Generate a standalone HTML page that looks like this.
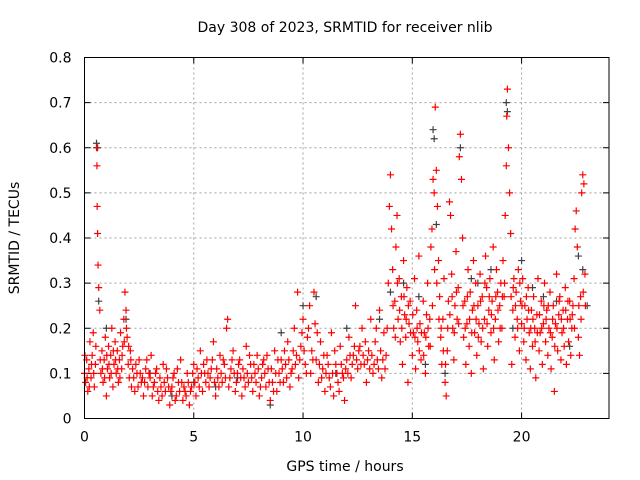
<!DOCTYPE html>
<html><head><meta charset="utf-8"><style>
html,body{margin:0;padding:0;background:#fff;}
svg{display:block;font-family:"DejaVu Sans","Liberation Sans",sans-serif;}
</style></head><body>
<svg id="chart" width="640" height="480">
<text x="345" y="32" font-size="14" text-anchor="middle">Day 308 of 2023, SRMTID for receiver nlib</text>
<text x="345" y="471" font-size="14" text-anchor="middle">GPS time / hours</text>
<text transform="translate(19,238) rotate(-90)" font-size="14" text-anchor="middle">SRMTID / TECUs</text>
<g id="grid"></g>
<g id="ticks"></g>
<g id="gray"></g>
<g id="red"></g>
<rect x="84.5" y="57.5" width="524.5" height="361" fill="none" stroke="#000" stroke-width="1"/>
</svg>
<script>
const xTicks=[0,5,10,15,20];
const yTicks=[0,0.1,0.2,0.3,0.4,0.5,0.6,0.7,0.8];
const yTickLabels=["0","0.1","0.2","0.3","0.4","0.5","0.6","0.7","0.8"];
const grayPoints=[[0.55,.61],[0.6,.6],[0.65,.26],[1.0,.2],[1.9,.22],[3,.1],[5,.08],[7,.09],[8.5,.03],[9,.19],[10,.25],[10.6,.27],[12,.2],[13.5,.22],[14,.28],[14.6,.3],[15.3,.27],[15.95,.64],[16,.62],[16.1,.43],[16.5,.1],[17.2,.6],[17.7,.31],[18,.3],[18.6,.33],[19.3,.7],[19.35,.68],[19.6,.2],[20,.35],[20.5,.29],[21,.27],[21.6,.26],[22.6,.36],[22.8,.33],[23,.25],[22.2,.16],[15.6,.12],[11.5,.1],[6,.07],[4,.05]];
const redPoints=[[0.0,.1],[0.05,.08],[0.1,.13],[0.15,.06],[0.2,.11],[0.25,.17],[0.3,.09],[0.35,.14],[0.4,.19],[0.45,.07],[0.5,.12],[0.55,.6],[0.57,.56],[0.58,.47],[0.6,.41],[0.62,.34],[0.65,.29],[0.7,.24],[0.75,.1],[0.8,.15],[0.85,.08],[0.9,.13],[0.95,.18],[1.0,.05],[1.05,.11],[1.1,.16],[1.15,.09],[1.2,.14],[1.25,.2],[1.3,.07],[1.35,.12],[1.4,.17],[1.45,.1],[1.5,.15],[1.55,.08],[1.6,.13],[1.65,.19],[1.7,.11],[1.75,.16],[1.8,.22],[1.85,.28],[1.9,.24],[1.95,.18],[2.0,.12],[2.05,.09],[2.1,.15],[2.15,.07],[2.2,.11],[2.3,.06],[2.4,.1],[2.5,.13],[2.6,.08],[2.7,.05],[2.8,.11],[2.9,.07],[3.0,.09],[3.05,.14],[3.1,.05],[3.2,.08],[3.3,.11],[3.4,.04],[3.5,.07],[3.6,.12],[3.7,.06],[3.8,.09],[3.9,.03],[4.0,.07],[4.1,.1],[4.2,.05],[4.3,.08],[4.4,.13],[4.5,.04],[4.6,.06],[4.7,.1],[4.8,.03],[4.9,.07],[5.0,.12],[5.1,.05],[5.2,.09],[5.3,.15],[5.4,.06],[5.5,.1],[5.6,.13],[5.7,.07],[5.8,.11],[5.9,.17],[6.0,.05],[6.1,.09],[6.2,.14],[6.3,.08],[6.4,.12],[6.5,.2],[6.6,.07],[6.7,.11],[6.8,.15],[6.9,.06],[7.0,.1],[7.1,.13],[7.2,.05],[7.3,.09],[7.4,.16],[7.5,.08],[7.6,.12],[7.7,.06],[7.8,.1],[7.9,.14],[8.0,.05],[8.1,.09],[8.2,.13],[8.3,.07],[8.4,.11],[8.5,.04],[8.6,.08],[8.7,.15],[8.8,.06],[8.9,.1],[9.0,.13],[9.1,.08],[9.2,.12],[9.3,.17],[9.4,.07],[9.5,.11],[9.6,.2],[9.7,.14],[9.75,.28],[9.8,.09],[9.9,.16],[10.0,.22],[10.1,.12],[10.2,.18],[10.3,.25],[10.35,.1],[10.4,.15],[10.5,.28],[10.55,.21],[10.6,.13],[10.7,.08],[10.8,.17],[10.9,.11],[11.0,.06],[11.1,.14],[11.2,.09],[11.3,.19],[11.4,.05],[11.5,.12],[11.6,.08],[11.7,.16],[11.8,.1],[11.9,.04],[12.0,.13],[12.1,.18],[12.2,.09],[12.3,.14],[12.4,.25],[12.5,.11],[12.6,.16],[12.7,.2],[12.8,.12],[12.9,.08],[13.0,.15],[13.1,.22],[13.2,.1],[13.3,.17],[13.4,.13],[13.5,.24],[13.6,.09],[13.7,.19],[13.8,.14],[13.9,.3],[13.95,.47],[14.0,.54],[14.05,.42],[14.1,.33],[14.15,.2],[14.2,.26],[14.25,.38],[14.3,.45],[14.35,.22],[14.4,.31],[14.45,.17],[14.5,.27],[14.55,.12],[14.6,.35],[14.65,.23],[14.7,.18],[14.75,.29],[14.8,.08],[14.85,.21],[14.9,.26],[15.0,.14],[15.05,.19],[15.1,.31],[15.15,.11],[15.2,.24],[15.25,.17],[15.3,.36],[15.35,.21],[15.4,.13],[15.5,.26],[15.55,.19],[15.6,.1],[15.65,.23],[15.7,.3],[15.75,.16],[15.8,.22],[15.85,.38],[15.9,.42],[15.95,.53],[16.0,.5],[16.05,.69],[16.1,.55],[16.15,.47],[16.2,.35],[16.25,.27],[16.3,.18],[16.35,.12],[16.4,.22],[16.45,.31],[16.5,.08],[16.55,.05],[16.6,.15],[16.65,.26],[16.7,.48],[16.75,.45],[16.8,.32],[16.85,.2],[16.9,.13],[16.95,.25],[17.0,.37],[17.05,.22],[17.1,.29],[17.15,.58],[17.2,.63],[17.25,.53],[17.3,.4],[17.35,.18],[17.4,.26],[17.45,.12],[17.5,.21],[17.55,.33],[17.6,.16],[17.65,.28],[17.7,.1],[17.75,.24],[17.8,.35],[17.85,.19],[17.9,.3],[17.95,.14],[18.0,.25],[18.05,.21],[18.1,.32],[18.15,.17],[18.2,.27],[18.25,.11],[18.3,.22],[18.35,.36],[18.4,.29],[18.45,.16],[18.5,.24],[18.55,.31],[18.6,.19],[18.65,.26],[18.7,.38],[18.75,.13],[18.8,.22],[18.85,.33],[18.9,.28],[18.95,.17],[19.0,.25],[19.05,.3],[19.1,.2],[19.15,.35],[19.2,.27],[19.25,.45],[19.3,.56],[19.32,.67],[19.35,.73],[19.4,.6],[19.45,.5],[19.5,.41],[19.55,.12],[19.6,.24],[19.65,.31],[19.7,.18],[19.75,.28],[19.8,.22],[19.85,.33],[19.9,.15],[19.95,.26],[20.0,.21],[20.05,.31],[20.1,.17],[20.15,.25],[20.2,.13],[20.25,.22],[20.3,.29],[20.35,.19],[20.4,.11],[20.45,.24],[20.5,.16],[20.55,.27],[20.6,.2],[20.65,.09],[20.7,.23],[20.75,.31],[20.8,.15],[20.85,.19],[20.9,.26],[20.95,.12],[21.0,.21],[21.05,.3],[21.1,.17],[21.15,.24],[21.2,.14],[21.25,.2],[21.3,.28],[21.35,.11],[21.4,.18],[21.45,.25],[21.5,.06],[21.55,.21],[21.6,.32],[21.65,.15],[21.7,.23],[21.75,.27],[21.8,.13],[21.85,.19],[21.9,.24],[21.95,.16],[22.0,.29],[22.05,.12],[22.1,.22],[22.15,.17],[22.2,.26],[22.25,.14],[22.3,.2],[22.35,.25],[22.4,.31],[22.45,.42],[22.5,.46],[22.55,.38],[22.6,.18],[22.65,.14],[22.7,.27],[22.75,.5],[22.8,.54],[22.85,.52],[22.9,.32]];
const redPoints2=[[0.02,.14],[0.12,.09],[0.22,.07],[0.32,.12],[0.42,.1],[0.52,.16],[0.72,.13],[0.82,.11],[0.92,.09],[1.02,.14],[1.12,.12],[1.22,.1],[1.32,.15],[1.42,.13],[1.52,.11],[1.62,.09],[1.72,.14],[1.82,.17],[1.92,.2],[2.02,.16],[2.12,.13],[2.25,.09],[2.35,.12],[2.45,.07],[2.55,.1],[2.65,.09],[2.75,.08],[2.85,.13],[2.95,.1],[3.15,.07],[3.25,.1],[3.35,.06],[3.45,.09],[3.55,.05],[3.65,.08],[3.75,.11],[3.85,.07],[3.95,.06],[4.05,.09],[4.15,.04],[4.25,.11],[4.35,.06],[4.45,.08],[4.55,.07],[4.65,.05],[4.75,.08],[4.85,.06],[4.95,.1],[5.05,.08],[5.15,.11],[5.25,.07],[5.35,.1],[5.45,.12],[5.55,.08],[5.65,.1],[5.75,.09],[5.85,.13],[5.95,.08],[6.05,.11],[6.15,.07],[6.25,.1],[6.35,.13],[6.45,.09],[6.55,.22],[6.65,.09],[6.75,.13],[6.85,.1],[6.95,.08],[7.05,.12],[7.15,.09],[7.25,.11],[7.35,.07],[7.45,.1],[7.55,.14],[7.65,.09],[7.75,.12],[7.85,.08],[7.95,.11],[8.05,.07],[8.15,.12],[8.25,.1],[8.35,.14],[8.45,.08],[8.55,.11],[8.65,.06],[8.75,.1],[8.85,.13],[8.95,.08],[9.05,.11],[9.15,.15],[9.25,.09],[9.35,.13],[9.45,.1],[9.55,.15],[9.65,.12],[9.85,.13],[9.95,.19],[10.05,.15],[10.15,.1],[10.25,.2],[10.45,.13],[10.65,.19],[10.75,.12],[10.85,.09],[10.95,.14],[11.05,.1],[11.15,.12],[11.25,.07],[11.35,.1],[11.45,.15],[11.55,.1],[11.65,.06],[11.75,.12],[11.85,.09],[11.95,.11],[12.05,.1],[12.15,.14],[12.25,.12],[12.35,.16],[12.45,.13],[12.55,.15],[12.65,.12],[12.75,.14],[12.85,.17],[12.95,.13],[13.05,.11],[13.15,.14],[13.25,.12],[13.35,.2],[13.45,.11],[13.55,.15],[13.65,.13],[13.75,.11],[13.85,.2],[14.12,.25],[14.22,.18],[14.32,.3],[14.42,.24],[14.52,.2],[14.62,.27],[14.72,.22],[14.82,.25],[14.92,.19],[15.02,.23],[15.12,.18],[15.22,.2],[15.32,.15],[15.42,.19],[15.52,.14],[15.62,.18],[15.72,.2],[15.82,.16],[15.92,.25],[16.02,.33],[16.12,.3],[16.22,.22],[16.32,.2],[16.42,.15],[16.52,.12],[16.62,.2],[16.72,.23],[16.82,.27],[16.92,.19],[17.02,.28],[17.12,.21],[17.32,.25],[17.42,.2],[17.52,.27],[17.62,.22],[17.72,.19],[17.82,.25],[17.92,.22],[18.02,.18],[18.12,.26],[18.22,.2],[18.32,.3],[18.42,.21],[18.52,.27],[18.62,.23],[18.72,.2],[18.82,.27],[18.92,.24],[19.02,.2],[19.12,.27],[19.22,.3],[19.52,.27],[19.62,.29],[19.72,.25],[19.82,.2],[19.92,.3],[20.02,.25],[20.12,.2],[20.22,.27],[20.32,.24],[20.42,.2],[20.52,.22],[20.62,.17],[20.72,.19],[20.82,.23],[20.92,.2],[21.02,.25],[21.12,.22],[21.22,.25],[21.32,.19],[21.42,.22],[21.52,.16],[21.62,.2],[21.72,.26],[21.82,.22],[21.92,.2],[22.02,.24],[22.12,.26],[22.22,.22],[22.32,.23],[22.42,.2],[22.62,.25],[22.72,.22],[22.82,.28],[22.92,.25]];
const NS="http://www.w3.org/2000/svg";
const L=84.5,R=609,T=57.5,B=418.5,XMAX=24,YMAX=0.8;
function xs(v){return L+(R-L)*v/XMAX;}
function ys(v){return B-(B-T)*v/YMAX;}
function mk(tag,attrs,parent){const e=document.createElementNS(NS,tag);for(const k in attrs)e.setAttribute(k,attrs[k]);parent.appendChild(e);return e;}
const grid=document.getElementById('grid'),ticks=document.getElementById('ticks');
xTicks.forEach(t=>{
  const x=xs(t);
  if(t>0){const g=mk('line',{x1:x,x2:x,y1:T,y2:B,stroke:'#a0a0a0','stroke-dasharray':'2,3'},grid);
  
  }
  mk('line',{x1:x,x2:x,y1:B,y2:B-6,stroke:'#000'},ticks);
  mk('line',{x1:x,x2:x,y1:T,y2:T+6,stroke:'#000'},ticks);
  const tx=mk('text',{x:x,y:B+23,'font-size':14,'text-anchor':'middle'},ticks);
  tx.textContent=String(t);
  
  
});
yTicks.forEach((t,i)=>{
  const y=ys(t);
  if(t>0&&t<YMAX){const g=mk('line',{x1:L,x2:R,y1:y,y2:y,stroke:'#a0a0a0','stroke-dasharray':'2,3'},grid);
  
  }
  mk('line',{x1:L,x2:L+6,y1:y,y2:y,stroke:'#000'},ticks);
  mk('line',{x1:R,x2:R-6,y1:y,y2:y,stroke:'#000'},ticks);
  const tx=mk('text',{x:L-13,y:y+5,'font-size':14,'text-anchor':'end'},ticks);
  tx.textContent=yTickLabels[i];
  
  
});
function plus(parent,pts,color){
  let d='';
  pts.forEach(p=>{const x=xs(p[0]),y=ys(p[1]);d+=`M${x-3.5},${y}h7M${x},${y-3.5}v7`;});
  const path=mk('path',{d:d,stroke:color,'stroke-width':1.2,fill:'none'},parent);
  
  
}
plus(document.getElementById('gray'),grayPoints,'#404040');
plus(document.getElementById('red'),redPoints,'#ff0000');
plus(document.getElementById('red'),redPoints2,'#ff0000');
</script>
</body></html>
